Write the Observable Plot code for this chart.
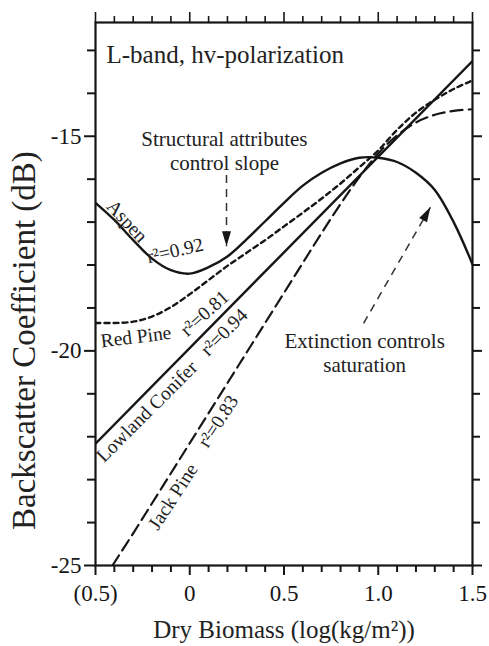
<!DOCTYPE html>
<html><head><meta charset="utf-8">
<script src="https://cdn.jsdelivr.net/npm/d3@7"></script>
<script src="https://cdn.jsdelivr.net/npm/@observablehq/plot@0.6"></script>
<style>html,body{margin:0;padding:0;background:#fff}#chart{width:489px;height:646px}</style>
</head><body><div id="chart"></div>
<script>
// ---- data ----
const biomass = [-0.5,-0.4,-0.3,-0.2,-0.1,0,0.1,0.2,0.3,0.4,0.5,0.6,0.7,0.8,0.9,1.0,1.1,1.2,1.3,1.4,1.5];
const aspen   = [-16.55,-16.95,-17.42,-17.85,-18.12,-18.2,-18.05,-17.8,-17.41,-16.98,-16.55,-16.15,-15.85,-15.63,-15.5,-15.5,-15.6,-15.85,-16.25,-17.0,-17.98];
const redPine = [-19.35,-19.35,-19.32,-19.2,-18.98,-18.68,-18.35,-18.02,-17.72,-17.42,-17.1,-16.78,-16.45,-16.1,-15.72,-15.33,-14.85,-14.45,-14.15,-13.9,-13.7];
const lowlandX = [-0.5, 1.5];
const lowland  = [-22.16, -13.25];
const jackX    = [-0.41,-0.3,-0.2,-0.1,0,0.1,0.2,0.3,0.4,0.5,0.6,0.7,0.8,0.9,1.0,1.1,1.2,1.3,1.4,1.5];
const jackPine = [-25,-24.25,-23.55,-22.85,-22.15,-21.45,-20.75,-20.05,-19.35,-18.65,-17.95,-17.25,-16.58,-15.95,-15.4,-14.98,-14.68,-14.5,-14.41,-14.37];

const xMajor = [-0.5, 0, 0.5, 1.0, 1.5];
const xTickLabels = ["(0.5)", "0", "0.5", "1.0", "1.5"];
const xMinor = [-0.4,-0.3,-0.2,-0.1,0.1,0.2,0.3,0.4,0.6,0.7,0.8,0.9,1.1,1.2,1.3,1.4];
const yMajor = [-25, -20, -15];
const yTickLabels = ["-25", "-20", "-15"];
const yMinor = [-24,-23,-22,-21,-19,-18,-17,-16,-14,-13];

const title = "L-band, hv-polarization";
const xTitle = "Dry Biomass (log(kg/m²))";
const yTitle = "Backscatter Coefficient (dB)";
const yTitleX = -0.877, yTitleY = -19.76;

const curveLabelText = ["Aspen","r²=0.92","Red Pine","r²=0.81","Lowland Conifer","r²=0.94","Jack Pine","r²=0.83"];
const curveLabelX    = [-0.447,-0.219,-0.468,-0.012,-0.455,0.098,-0.168,0.096];
const curveLabelY    = [-16.655,-17.96,-19.92,-19.68,-22.62,-20.14,-24.2,-22.28];
const curveLabelRot  = [47,-13,-7,-42,-45,-45,-57,-57];

const noteText = ["Structural attributes\ncontrol slope", "Extinction controls\nsaturation"];
const noteX    = [0.184, 0.928];
const noteY    = [-15.19, -19.9];

const arrowX1 = [0.195, 0.922];
const arrowY1 = [-15.9, -19.36];
const arrowX2 = [0.195, 1.277];
const arrowY2 = [-17.56, -16.65];
const arrowDir = [180, 29.4];

// ---- build tables ----
const aspenRows = biomass.map((x,i)=>({x, y: aspen[i]}));
const redRows = biomass.map((x,i)=>({x, y: redPine[i]}));
const lowRows = lowlandX.map((x,i)=>({x, y: lowland[i]}));
const jackRows = jackX.map((x,i)=>({x, y: jackPine[i]}));
const labels = curveLabelText.map((t,i)=>({t, x: curveLabelX[i], y: curveLabelY[i], r: curveLabelRot[i]}));
const notes = noteText.map((t,i)=>({t, x: noteX[i], y: noteY[i]}));
const arrows = arrowX1.map((x1,i)=>({x1, y1: arrowY1[i], x2: arrowX2[i], y2: arrowY2[i], dir: arrowDir[i]}));

function headSymbol(deg, len = 15, half = 4.5) {
  const a = deg * Math.PI / 180, ux = Math.sin(a), uy = -Math.cos(a), px = -uy, py = ux;
  return {draw(ctx) {
    ctx.moveTo(0, 0);
    ctx.lineTo(-ux*len + px*half, -uy*len + py*half);
    ctx.lineTo(-ux*len - px*half, -uy*len - py*half);
    ctx.closePath();
  }};
}

const ink = "#161616";
const serif = "'Liberation Serif', 'DejaVu Serif', serif";

const chart = Plot.plot({
  width: 489, height: 646,
  marginLeft: 95, marginRight: 17, marginTop: 22, marginBottom: 81,
  x: {domain: [-0.5, 1.5]},
  y: {domain: [-25, -12.35]},
  style: {fontFamily: serif, color: ink, background: "white"},
  marks: [
    // axes
    Plot.axisX(xMajor, {anchor: "bottom", tickSize: 10, tickPadding: 9, strokeWidth: 2, fontSize: 23, tickFormat: d => xTickLabels[xMajor.indexOf(d)], label: null}),
    Plot.axisX(xMinor, {anchor: "bottom", tickSize: 7, strokeWidth: 2, tickFormat: () => "", label: null}),
    Plot.axisX(xMajor, {anchor: "top", tickSize: 11, strokeWidth: 1.6, tickFormat: () => "", label: null}),
    Plot.axisX(xMinor, {anchor: "top", tickSize: 7, strokeWidth: 1.6, tickFormat: () => "", label: null}),
    Plot.axisY(yMajor, {anchor: "left", tickSize: 11, tickPadding: 3, strokeWidth: 2, fontSize: 23, tickFormat: d => yTickLabels[yMajor.indexOf(d)], label: null}),
    Plot.axisY(yMinor, {anchor: "left", tickSize: 8, strokeWidth: 2, tickFormat: () => "", label: null}),
    Plot.axisY(yMajor, {anchor: "right", tickSize: 9, strokeWidth: 2, tickFormat: () => "", label: null}),
    Plot.axisY(yMinor, {anchor: "right", tickSize: 7, strokeWidth: 2, tickFormat: () => "", label: null}),
    Plot.frame({stroke: ink, strokeWidth: 2.2}),
    // curves
    Plot.line(aspenRows, {x: "x", y: "y", curve: "catmull-rom", stroke: ink, strokeWidth: 2.4, clip: true}),
    Plot.line(redRows, {x: "x", y: "y", curve: "catmull-rom", stroke: ink, strokeWidth: 2.4, strokeDasharray: "5,4", clip: true}),
    Plot.line(lowRows, {x: "x", y: "y", stroke: ink, strokeWidth: 2.4, clip: true}),
    Plot.line(jackRows, {x: "x", y: "y", curve: "catmull-rom", stroke: ink, strokeWidth: 2.2, strokeDasharray: "12,6", clip: true}),
    // annotation arrows
    Plot.link(arrows, {x1: "x1", y1: "y1", x2: "x2", y2: "y2", stroke: "#333", strokeWidth: 1.5, strokeDasharray: "8,6"}),
    Plot.dot(arrows.slice(0,1), {x: "x2", y: "y2", symbol: headSymbol(arrowDir[0]), fill: ink, stroke: "none", r: 5}),
    Plot.dot(arrows.slice(1,2), {x: "x2", y: "y2", symbol: headSymbol(arrowDir[1]), fill: ink, stroke: "none", r: 5}),
    // texts
    Plot.text([title], {text: d => d, frameAnchor: "top-left", dx: 11, dy: 32, textAnchor: "start", lineAnchor: "middle", fontSize: 25, fill: "#222"}),
    Plot.text(notes, {x: "x", y: "y", text: "t", textAnchor: "middle", lineAnchor: "top", dy: -15, lineHeight: 1.13, fontSize: 21, fill: "#222"}),
    Plot.text(labels, {x: "x", y: "y", text: "t", rotate: "r", textAnchor: "start", lineAnchor: "bottom", fontSize: 19.5, fill: "#222"}),
    Plot.text([xTitle], {text: d => d, frameAnchor: "bottom", dy: 64, lineAnchor: "middle", fontSize: 25, fill: "#222"}),
    Plot.text([yTitle], {text: d => d, x: () => yTitleX, y: () => yTitleY, rotate: -90, textAnchor: "middle", lineAnchor: "middle", fontSize: 33, fill: "#222"})
  ]
});
document.getElementById("chart").appendChild(chart);
</script>
</body></html>
